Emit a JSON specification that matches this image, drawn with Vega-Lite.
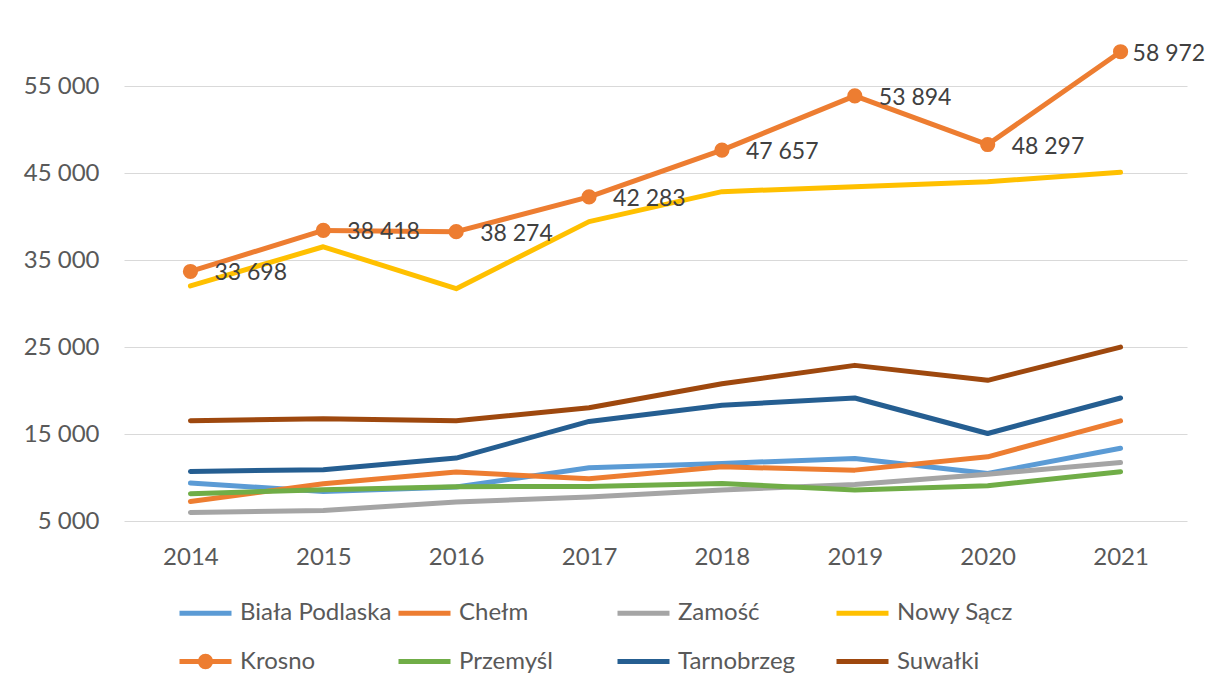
{
  "$schema": "https://vega.github.io/schema/vega-lite/v6.json",
  "width": 1063,
  "height": 513,
  "autosize": "none",
  "padding": {"left": 124, "top": 8, "right": 21, "bottom": 169},
  "background": "white",
  "config": {
    "locale": {"number": {"decimal": ",", "thousands": " ", "grouping": [3], "currency": ["", ""]}},
    "view": {"stroke": null},
    "font": "Lato"
  },
  "data": {
    "values": [
      {"miasto": "Biała Podlaska", "rok": "2014", "wartosc": 9370},
      {"miasto": "Biała Podlaska", "rok": "2015", "wartosc": 8400},
      {"miasto": "Biała Podlaska", "rok": "2016", "wartosc": 8910},
      {"miasto": "Biała Podlaska", "rok": "2017", "wartosc": 11130},
      {"miasto": "Biała Podlaska", "rok": "2018", "wartosc": 11620},
      {"miasto": "Biała Podlaska", "rok": "2019", "wartosc": 12190},
      {"miasto": "Biała Podlaska", "rok": "2020", "wartosc": 10470},
      {"miasto": "Biała Podlaska", "rok": "2021", "wartosc": 13370},
      {"miasto": "Chełm", "rok": "2014", "wartosc": 7250},
      {"miasto": "Chełm", "rok": "2015", "wartosc": 9290},
      {"miasto": "Chełm", "rok": "2016", "wartosc": 10630},
      {"miasto": "Chełm", "rok": "2017", "wartosc": 9860},
      {"miasto": "Chełm", "rok": "2018", "wartosc": 11230},
      {"miasto": "Chełm", "rok": "2019", "wartosc": 10850},
      {"miasto": "Chełm", "rok": "2020", "wartosc": 12380},
      {"miasto": "Chełm", "rok": "2021", "wartosc": 16510},
      {"miasto": "Zamość", "rok": "2014", "wartosc": 5990},
      {"miasto": "Zamość", "rok": "2015", "wartosc": 6220},
      {"miasto": "Zamość", "rok": "2016", "wartosc": 7180},
      {"miasto": "Zamość", "rok": "2017", "wartosc": 7760},
      {"miasto": "Zamość", "rok": "2018", "wartosc": 8560},
      {"miasto": "Zamość", "rok": "2019", "wartosc": 9210},
      {"miasto": "Zamość", "rok": "2020", "wartosc": 10390},
      {"miasto": "Zamość", "rok": "2021", "wartosc": 11730},
      {"miasto": "Nowy Sącz", "rok": "2014", "wartosc": 32030},
      {"miasto": "Nowy Sącz", "rok": "2015", "wartosc": 36540},
      {"miasto": "Nowy Sącz", "rok": "2016", "wartosc": 31720},
      {"miasto": "Nowy Sącz", "rok": "2017", "wartosc": 39430},
      {"miasto": "Nowy Sącz", "rok": "2018", "wartosc": 42880},
      {"miasto": "Nowy Sącz", "rok": "2019", "wartosc": 43450},
      {"miasto": "Nowy Sącz", "rok": "2020", "wartosc": 44030},
      {"miasto": "Nowy Sącz", "rok": "2021", "wartosc": 45100},
      {"miasto": "Krosno", "rok": "2014", "wartosc": 33698},
      {"miasto": "Krosno", "rok": "2015", "wartosc": 38418},
      {"miasto": "Krosno", "rok": "2016", "wartosc": 38274},
      {"miasto": "Krosno", "rok": "2017", "wartosc": 42283},
      {"miasto": "Krosno", "rok": "2018", "wartosc": 47657},
      {"miasto": "Krosno", "rok": "2019", "wartosc": 53894},
      {"miasto": "Krosno", "rok": "2020", "wartosc": 48297},
      {"miasto": "Krosno", "rok": "2021", "wartosc": 58972},
      {"miasto": "Przemyśl", "rok": "2014", "wartosc": 8140},
      {"miasto": "Przemyśl", "rok": "2015", "wartosc": 8600},
      {"miasto": "Przemyśl", "rok": "2016", "wartosc": 8940},
      {"miasto": "Przemyśl", "rok": "2017", "wartosc": 8980},
      {"miasto": "Przemyśl", "rok": "2018", "wartosc": 9320},
      {"miasto": "Przemyśl", "rok": "2019", "wartosc": 8560},
      {"miasto": "Przemyśl", "rok": "2020", "wartosc": 9050},
      {"miasto": "Przemyśl", "rok": "2021", "wartosc": 10660},
      {"miasto": "Tarnobrzeg", "rok": "2014", "wartosc": 10700},
      {"miasto": "Tarnobrzeg", "rok": "2015", "wartosc": 10900},
      {"miasto": "Tarnobrzeg", "rok": "2016", "wartosc": 12240},
      {"miasto": "Tarnobrzeg", "rok": "2017", "wartosc": 16450},
      {"miasto": "Tarnobrzeg", "rok": "2018", "wartosc": 18310},
      {"miasto": "Tarnobrzeg", "rok": "2019", "wartosc": 19150},
      {"miasto": "Tarnobrzeg", "rok": "2020", "wartosc": 15060},
      {"miasto": "Tarnobrzeg", "rok": "2021", "wartosc": 19150},
      {"miasto": "Suwałki", "rok": "2014", "wartosc": 16530},
      {"miasto": "Suwałki", "rok": "2015", "wartosc": 16760},
      {"miasto": "Suwałki", "rok": "2016", "wartosc": 16530},
      {"miasto": "Suwałki", "rok": "2017", "wartosc": 18020},
      {"miasto": "Suwałki", "rok": "2018", "wartosc": 20790},
      {"miasto": "Suwałki", "rok": "2019", "wartosc": 22900},
      {"miasto": "Suwałki", "rok": "2020", "wartosc": 21180},
      {"miasto": "Suwałki", "rok": "2021", "wartosc": 25000}
    ]
  },
  "encoding": {
    "x": {
      "field": "rok",
      "type": "ordinal",
      "scale": {"type": "point", "padding": 0.5},
      "axis": {
        "title": null,
        "domain": false,
        "ticks": false,
        "tickSize": 0,
        "labelAngle": 0,
        "labelFont": "Lato",
        "labelFontSize": 24,
        "labelColor": "#595959",
        "labelPadding": 24,
        "grid": false
      }
    },
    "y": {
      "field": "wartosc",
      "type": "quantitative",
      "scale": {"domain": [5000, 64000], "nice": false, "zero": false},
      "axis": {
        "title": null,
        "values": [5000, 15000, 25000, 35000, 45000, 55000],
        "format": ",d",
        "domain": false,
        "ticks": false,
        "tickSize": 0,
        "grid": true,
        "gridColor": "#D9D9D9",
        "gridWidth": 1.2,
        "labelFont": "Lato",
        "labelFontSize": 24,
        "labelColor": "#595959",
        "labelPadding": 25
      }
    }
  },
  "layer": [
    {
      "mark": {"type": "line", "strokeWidth": 5, "strokeCap": "round", "strokeJoin": "round"},
      "encoding": {
        "color": {
          "field": "miasto",
          "type": "nominal",
          "scale": {
            "domain": ["Biała Podlaska", "Chełm", "Zamość", "Nowy Sącz", "Krosno", "Przemyśl", "Tarnobrzeg", "Suwałki"],
            "range": ["#5B9BD5", "#ED7D31", "#A5A5A5", "#FFC000", "#ED7D31", "#70AD47", "#255E91", "#9E480E"]
          },
          "legend": {
            "title": null,
            "orient": "none",
            "legendX": 53,
            "legendY": 575,
            "direction": "horizontal",
            "columns": 4,
            "gridAlign": "all",
            "columnPadding": -4,
            "rowPadding": 6,
            "symbolType": "stroke",
            "symbolSize": 2704,
            "symbolStrokeWidth": 5,
            "labelFont": "Lato",
            "labelFontSize": 24,
            "labelColor": "#595959",
            "labelOffset": 6,
            "labelLimit": 400,
            "encode": {
              "symbols": {
                "update": {
                  "shape": {"signal": "datum.value === 'Krosno' ? 'M-1,0L1,0M0.2,0A0.2,0.2,0,1,1,-0.2,0A0.2,0.2,0,1,1,0.2,0Z' : 'stroke'"},
                  "fill": {"signal": "datum.value === 'Krosno' ? '#ED7D31' : 'transparent'"}
                }
              }
            }
          }
        }
      }
    },
    {
      "transform": [{"filter": "datum.miasto === 'Krosno'"}],
      "mark": {"type": "point", "filled": true, "size": 230, "opacity": 1, "color": "#ED7D31"}
    },
    {
      "transform": [{"filter": "datum.miasto === 'Krosno' && datum.rok !== '2021'"}],
      "mark": {"type": "text", "align": "left", "baseline": "middle", "dx": 24, "dy": 2, "font": "Lato", "fontSize": 23, "color": "#404040"},
      "encoding": {"text": {"field": "wartosc", "type": "quantitative", "format": ",d"}}
    },
    {
      "transform": [{"filter": "datum.miasto === 'Krosno' && datum.rok === '2021'"}],
      "mark": {"type": "text", "align": "left", "baseline": "middle", "dx": 12, "dy": 2, "font": "Lato", "fontSize": 23, "color": "#404040"},
      "encoding": {"text": {"field": "wartosc", "type": "quantitative", "format": ",d"}}
    }
  ]
}
